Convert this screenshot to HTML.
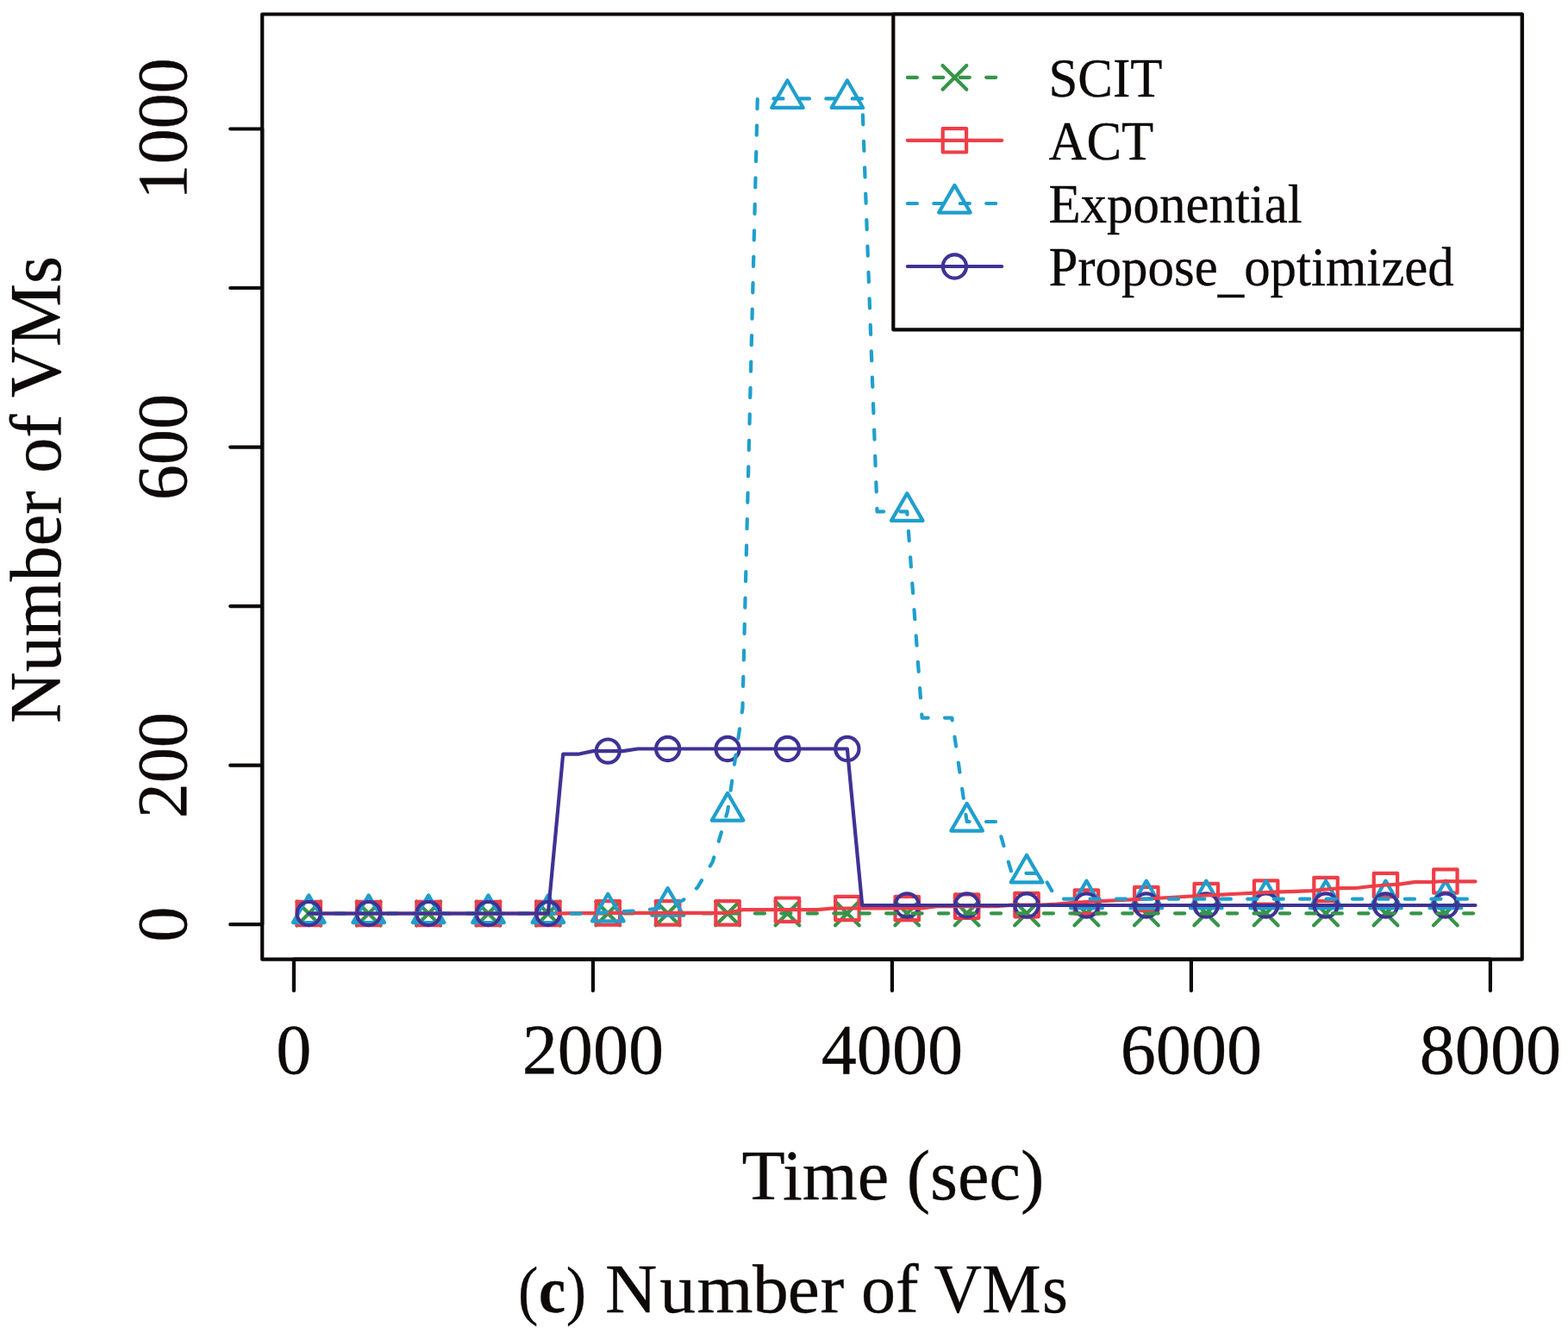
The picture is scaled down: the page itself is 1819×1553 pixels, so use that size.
<!DOCTYPE html>
<html lang="en"><head><meta charset="utf-8"><title>(c) Number of VMs</title>
<style>
html,body{margin:0;padding:0;background:#fff;}
body{width:1819px;height:1553px;overflow:hidden;}
svg{display:block;}
text{font-family:"Liberation Serif","Times New Roman",Times,serif;fill:#0d0909;stroke:#0d0909;stroke-width:0.3px;stroke-linejoin:round;}
.ln{fill:none;stroke-width:4.2;stroke-linecap:round;stroke-linejoin:round;}
.ax{fill:none;stroke:#0d0909;stroke-width:4.2;stroke-linecap:round;stroke-linejoin:round;}
</style></head><body>
<svg width="1819" height="1553" viewBox="0 0 1819 1553">
<rect x="0" y="0" width="1819" height="1553" fill="#fff"/>
<!-- markers -->
<g class="ln" stroke="#37944a"><path d="M344.35 1045.6L372.15 1073.4M344.35 1073.4L372.15 1045.6"/><path d="M413.75 1045.6L441.55 1073.4M413.75 1073.4L441.55 1045.6"/><path d="M483.15 1045.6L510.95 1073.4M483.15 1073.4L510.95 1045.6"/><path d="M552.55 1045.6L580.35 1073.4M552.55 1073.4L580.35 1045.6"/><path d="M621.95 1045.6L649.75 1073.4M621.95 1073.4L649.75 1045.6"/><path d="M691.35 1045.4L719.15 1073.2M691.35 1073.2L719.15 1045.4"/><path d="M760.75 1045.4L788.55 1073.2M760.75 1073.2L788.55 1045.4"/><path d="M830.15 1045.4L857.95 1073.2M830.15 1073.2L857.95 1045.4"/><path d="M899.55 1045.4L927.35 1073.2M899.55 1073.2L927.35 1045.4"/><path d="M968.95 1045.4L996.75 1073.2M968.95 1073.2L996.75 1045.4"/><path d="M1038.35 1045.4L1066.15 1073.2M1038.35 1073.2L1066.15 1045.4"/><path d="M1107.75 1045.4L1135.55 1073.2M1107.75 1073.2L1135.55 1045.4"/><path d="M1177.15 1045.4L1204.95 1073.2M1177.15 1073.2L1204.95 1045.4"/><path d="M1246.55 1045.4L1274.35 1073.2M1246.55 1073.2L1274.35 1045.4"/><path d="M1315.95 1045.4L1343.75 1073.2M1315.95 1073.2L1343.75 1045.4"/><path d="M1385.35 1045.4L1413.15 1073.2M1385.35 1073.2L1413.15 1045.4"/><path d="M1454.75 1045.4L1482.55 1073.2M1454.75 1073.2L1482.55 1045.4"/><path d="M1524.15 1045.4L1551.95 1073.2M1524.15 1073.2L1551.95 1045.4"/><path d="M1593.55 1045.4L1621.35 1073.2M1593.55 1073.2L1621.35 1045.4"/><path d="M1662.95 1045.4L1690.75 1073.2M1662.95 1073.2L1690.75 1045.4"/></g>
<g class="ln" stroke="#ee3e48"><rect x="344.55" y="1045.8" width="27.4" height="27.4"/><rect x="413.95" y="1045.8" width="27.4" height="27.4"/><rect x="483.35" y="1045.8" width="27.4" height="27.4"/><rect x="552.75" y="1045.8" width="27.4" height="27.4"/><rect x="622.15" y="1045.8" width="27.4" height="27.4"/><rect x="691.55" y="1045.2" width="27.4" height="27.4"/><rect x="760.95" y="1045.2" width="27.4" height="27.4"/><rect x="830.35" y="1045.2" width="27.4" height="27.4"/><rect x="899.75" y="1041.5" width="27.4" height="27.4"/><rect x="969.15" y="1039.8" width="27.4" height="27.4"/><rect x="1038.55" y="1039.8" width="27.4" height="27.4"/><rect x="1107.95" y="1037.4" width="27.4" height="27.4"/><rect x="1177.35" y="1035.9" width="27.4" height="27.4"/><rect x="1246.75" y="1032.3" width="27.4" height="27.4"/><rect x="1316.15" y="1028.8" width="27.4" height="27.4"/><rect x="1385.55" y="1024.8" width="27.4" height="27.4"/><rect x="1454.95" y="1021.3" width="27.4" height="27.4"/><rect x="1524.35" y="1017.8" width="27.4" height="27.4"/><rect x="1593.75" y="1012.8" width="27.4" height="27.4"/><rect x="1663.15" y="1008.3" width="27.4" height="27.4"/></g>
<g class="ln" stroke="#1f9fcd"><path d="M358.25 1038.4L376.55 1070.05L339.95 1070.05Z"/><path d="M427.65 1038.4L445.95 1070.05L409.35 1070.05Z"/><path d="M497.05 1038.4L515.35 1070.05L478.75 1070.05Z"/><path d="M566.45 1038.4L584.75 1070.05L548.15 1070.05Z"/><path d="M635.85 1038.4L654.15 1070.05L617.55 1070.05Z"/><path d="M705.25 1036.7L723.55 1068.35L686.95 1068.35Z"/><path d="M774.65 1030.1L792.95 1061.75L756.35 1061.75Z"/><path d="M844.05 919.9L862.35 951.55L825.75 951.55Z"/><path d="M913.45 93.3L931.75 124.95L895.15 124.95Z"/><path d="M982.85 93.3L1001.15 124.95L964.55 124.95Z"/><path d="M1052.25 572.2L1070.55 603.85L1033.95 603.85Z"/><path d="M1121.65 931.9L1139.95 963.55L1103.35 963.55Z"/><path d="M1191.05 991.7L1209.35 1023.35L1172.75 1023.35Z"/><path d="M1260.45 1021.6L1278.75 1053.25L1242.15 1053.25Z"/><path d="M1329.85 1021.6L1348.15 1053.25L1311.55 1053.25Z"/><path d="M1399.25 1021.6L1417.55 1053.25L1380.95 1053.25Z"/><path d="M1468.65 1021.6L1486.95 1053.25L1450.35 1053.25Z"/><path d="M1538.05 1021.6L1556.35 1053.25L1519.75 1053.25Z"/><path d="M1607.45 1021.6L1625.75 1053.25L1589.15 1053.25Z"/><path d="M1676.85 1021.6L1695.15 1053.25L1658.55 1053.25Z"/></g>
<g class="ln" stroke="#3f3296"><circle cx="358.25" cy="1059.5" r="13.6"/><circle cx="427.65" cy="1059.5" r="13.6"/><circle cx="497.05" cy="1059.5" r="13.6"/><circle cx="566.45" cy="1059.5" r="13.6"/><circle cx="635.85" cy="1059.5" r="13.6"/><circle cx="705.25" cy="871.1" r="13.6"/><circle cx="774.65" cy="868.5" r="13.6"/><circle cx="844.05" cy="868.5" r="13.6"/><circle cx="913.45" cy="868.5" r="13.6"/><circle cx="982.85" cy="868.5" r="13.6"/><circle cx="1052.25" cy="1050" r="13.6"/><circle cx="1121.65" cy="1050" r="13.6"/><circle cx="1191.05" cy="1050" r="13.6"/><circle cx="1260.45" cy="1050" r="13.6"/><circle cx="1329.85" cy="1050" r="13.6"/><circle cx="1399.25" cy="1050" r="13.6"/><circle cx="1468.65" cy="1050" r="13.6"/><circle cx="1538.05" cy="1050" r="13.6"/><circle cx="1607.45" cy="1050" r="13.6"/><circle cx="1676.85" cy="1050" r="13.6"/></g>
<!-- lines -->
<path class="ln" stroke="#37944a" stroke-dasharray="11.1 19.35" d="M358.25 1059.5 L375.6 1059.5 L392.95 1059.5 L410.3 1059.5 L427.65 1059.5 L445 1059.5 L462.35 1059.5 L479.7 1059.5 L497.05 1059.5 L514.4 1059.5 L531.75 1059.5 L549.1 1059.5 L566.45 1059.5 L583.8 1059.5 L601.15 1059.5 L618.5 1059.5 L635.85 1059.5 L653.2 1059.45 L670.55 1059.4 L687.9 1059.35 L705.25 1059.3 L722.6 1059.3 L739.95 1059.3 L757.3 1059.3 L774.65 1059.3 L792 1059.3 L809.35 1059.3 L826.7 1059.3 L844.05 1059.3 L861.4 1059.3 L878.75 1059.3 L896.1 1059.3 L913.45 1059.3 L930.8 1059.3 L948.15 1059.3 L965.5 1059.3 L982.85 1059.3 L1000.2 1059.3 L1017.55 1059.3 L1034.9 1059.3 L1052.25 1059.3 L1069.6 1059.3 L1086.95 1059.3 L1104.3 1059.3 L1121.65 1059.3 L1139 1059.3 L1156.35 1059.3 L1173.7 1059.3 L1191.05 1059.3 L1208.4 1059.3 L1225.75 1059.3 L1243.1 1059.3 L1260.45 1059.3 L1277.8 1059.3 L1295.15 1059.3 L1312.5 1059.3 L1329.85 1059.3 L1347.2 1059.3 L1364.55 1059.3 L1381.9 1059.3 L1399.25 1059.3 L1416.6 1059.3 L1433.95 1059.3 L1451.3 1059.3 L1468.65 1059.3 L1486 1059.3 L1503.35 1059.3 L1520.7 1059.3 L1538.05 1059.3 L1555.4 1059.3 L1572.75 1059.3 L1590.1 1059.3 L1607.45 1059.3 L1624.8 1059.3 L1642.15 1059.3 L1659.5 1059.3 L1676.85 1059.3 L1694.2 1059.3 L1711.55 1059.3"/>
<path class="ln" stroke="#ee3e48" d="M358.25 1059.5 L375.6 1059.5 L392.95 1059.5 L410.3 1059.5 L427.65 1059.5 L445 1059.5 L462.35 1059.5 L479.7 1059.5 L497.05 1059.5 L514.4 1059.5 L531.75 1059.5 L549.1 1059.5 L566.45 1059.5 L583.8 1059.5 L601.15 1059.5 L618.5 1059.5 L635.85 1059.5 L653.2 1059.35 L670.55 1059.2 L687.9 1059.05 L705.25 1058.9 L722.6 1058.9 L739.95 1058.9 L757.3 1058.9 L774.65 1058.9 L792 1058.9 L809.35 1058.9 L826.7 1058.9 L844.05 1058.9 L861.4 1055.2 L878.75 1055.2 L896.1 1055.2 L913.45 1055.2 L930.8 1055.2 L948.15 1055.2 L965.5 1053.5 L982.85 1053.5 L1000.2 1053.5 L1017.55 1053.5 L1034.9 1053.5 L1052.25 1053.5 L1069.6 1053.5 L1086.95 1051.1 L1104.3 1051.1 L1121.65 1051.1 L1139 1051.1 L1156.35 1051.1 L1173.7 1049.6 L1191.05 1049.6 L1208.4 1049.6 L1225.75 1048.5 L1243.1 1047 L1260.45 1046 L1277.8 1045.12 L1295.15 1044.25 L1312.5 1043.38 L1329.85 1042.5 L1347.2 1041.5 L1364.55 1040.5 L1381.9 1039.5 L1399.25 1038.5 L1416.6 1037.62 L1433.95 1036.75 L1451.3 1035.88 L1468.65 1035 L1486 1034.4 L1503.35 1033.8 L1520.7 1033.2 L1538.05 1031.5 L1555.4 1030.2 L1572.75 1030 L1590.1 1028 L1607.45 1026.5 L1624.8 1025.3 L1642.15 1022.8 L1659.5 1023 L1676.85 1022 L1694.2 1022.3 L1711.55 1022.3"/>
<path class="ln" stroke="#1f9fcd" stroke-dasharray="11.1 19.35" d="M358.25 1059.5 L375.6 1059.5 L392.95 1059.5 L410.3 1059.5 L427.65 1059.5 L445 1059.5 L462.35 1059.5 L479.7 1059.5 L497.05 1059.5 L514.4 1059.5 L531.75 1059.5 L549.1 1059.5 L566.45 1059.5 L583.8 1059.5 L601.15 1059.5 L618.5 1059.5 L635.85 1059.5 L653.2 1059.5 L670.55 1059.5 L687.9 1059.5 L705.25 1057.8 L722.6 1057.2 L739.95 1056.2 L757.3 1054.4 L774.65 1051.2 L792 1044.4 L809.35 1029 L826.7 999.5 L844.05 941 L861.4 822 L878.75 114.4 L896.1 114.4 L913.45 114.4 L930.8 114.4 L948.15 114.4 L965.5 114.4 L982.85 114.4 L1000.2 114.4 L1017.55 593.3 L1034.9 593.3 L1052.25 593.3 L1069.6 832.6 L1086.95 832.6 L1104.3 832.6 L1121.65 953 L1139 953 L1156.35 953 L1173.7 1012.8 L1191.05 1012.8 L1208.4 1012.8 L1225.75 1042.7 L1243.1 1042.7 L1260.45 1042.7 L1277.8 1042.7 L1295.15 1042.7 L1312.5 1042.7 L1329.85 1042.7 L1347.2 1042.7 L1364.55 1042.7 L1381.9 1042.7 L1399.25 1042.7 L1416.6 1042.7 L1433.95 1042.7 L1451.3 1042.7 L1468.65 1042.7 L1486 1042.7 L1503.35 1042.7 L1520.7 1042.7 L1538.05 1042.7 L1555.4 1042.7 L1572.75 1042.7 L1590.1 1042.7 L1607.45 1042.7 L1624.8 1042.7 L1642.15 1042.7 L1659.5 1042.7 L1676.85 1042.7 L1694.2 1042.7 L1711.55 1042.7"/>
<path class="ln" stroke="#3f3296" d="M358.25 1059.5 L375.6 1059.5 L392.95 1059.5 L410.3 1059.5 L427.65 1059.5 L445 1059.5 L462.35 1059.5 L479.7 1059.5 L497.05 1059.5 L514.4 1059.5 L531.75 1059.5 L549.1 1059.5 L566.45 1059.5 L583.8 1059.5 L601.15 1059.5 L618.5 1059.5 L635.85 1059.5 L653.2 874.7 L670.55 874.7 L687.9 871.1 L705.25 871.1 L722.6 871.1 L739.95 868.5 L757.3 868.5 L774.65 868.5 L792 868.5 L809.35 868.5 L826.7 868.5 L844.05 868.5 L861.4 868.5 L878.75 868.5 L896.1 868.5 L913.45 868.5 L930.8 868.5 L948.15 868.5 L965.5 868.5 L982.85 868.5 L1000.2 1050 L1017.55 1050 L1034.9 1050 L1052.25 1050 L1069.6 1050 L1086.95 1050 L1104.3 1050 L1121.65 1050 L1139 1050 L1156.35 1050 L1173.7 1050 L1191.05 1050 L1208.4 1050 L1225.75 1050 L1243.1 1050 L1260.45 1050 L1277.8 1050 L1295.15 1050 L1312.5 1050 L1329.85 1050 L1347.2 1050 L1364.55 1050 L1381.9 1050 L1399.25 1050 L1416.6 1050 L1433.95 1050 L1451.3 1050 L1468.65 1050 L1486 1050 L1503.35 1050 L1520.7 1050 L1538.05 1050 L1555.4 1050 L1572.75 1050 L1590.1 1050 L1607.45 1050 L1624.8 1050 L1642.15 1050 L1659.5 1050 L1676.85 1050 L1694.2 1050 L1711.55 1050"/>
<!-- axes -->
<path class="ax" d="M340.9 1112.7H1728.9M340.9 1112.7V1148.9M687.9 1112.7V1148.9M1034.9 1112.7V1148.9M1381.9 1112.7V1148.9M1728.9 1112.7V1148.9M304.2 1072.2V149.5M304.2 1072.2H267.2M304.2 887.7H267.2M304.2 703.1H267.2M304.2 518.6H267.2M304.2 334H267.2M304.2 149.5H267.2"/>
<rect class="ax" x="304.2" y="16.5" width="1461.5" height="1096.2"/>
<text transform="translate(340.9 1245) scale(0.988 1)" font-size="83.2" text-anchor="middle">0</text>
<text transform="translate(687.9 1245) scale(0.988 1)" font-size="83.2" text-anchor="middle">2000</text>
<text transform="translate(1034.9 1245) scale(0.988 1)" font-size="83.2" text-anchor="middle">4000</text>
<text transform="translate(1381.9 1245) scale(0.988 1)" font-size="83.2" text-anchor="middle">6000</text>
<text transform="translate(1728.9 1245) scale(0.988 1)" font-size="83.2" text-anchor="middle">8000</text>
<text transform="translate(215.9 1072.2) rotate(-90) scale(0.985 1)" font-size="83.5" text-anchor="middle">0</text>
<text transform="translate(215.9 887.7) rotate(-90) scale(0.985 1)" font-size="83.5" text-anchor="middle">200</text>
<text transform="translate(215.9 518.6) rotate(-90) scale(0.985 1)" font-size="83.5" text-anchor="middle">600</text>
<text transform="translate(215.9 149.5) rotate(-90) scale(0.985 1)" font-size="83.5" text-anchor="middle">1000</text>
<text transform="translate(1036 1390.6) scale(0.993 1)" font-size="82.8" text-anchor="middle">Time (sec)</text>
<text transform="translate(70.4 567.8) rotate(-90) scale(0.975 1)" font-size="84.3" text-anchor="middle">Number of VMs</text>
<!-- legend -->
<rect class="ax" x="1036.3" y="16.5" width="729.4" height="365.8" style="fill:#fff"/>
<g class="ln" stroke="#37944a"><path stroke-dasharray="11.1 19.35" d="M1052.8 89.85H1162.2"/><path d="M1093.5 75.95L1121.3 103.75M1093.5 103.75L1121.3 75.95"/></g>
<text transform="translate(1216.4 112) scale(0.958 1)" font-size="63.6" text-anchor="start">SCIT</text>
<g class="ln" stroke="#ee3e48"><path d="M1052.8 162.8H1162.2"/><rect x="1093.7" y="149.1" width="27.4" height="27.4"/></g>
<text transform="translate(1216.4 185) scale(0.958 1)" font-size="63.6" text-anchor="start">ACT</text>
<g class="ln" stroke="#1f9fcd"><path stroke-dasharray="11.1 19.35" d="M1052.8 236H1162.2"/><path d="M1107.4 214.9L1125.7 246.55L1089.1 246.55Z"/></g>
<text transform="translate(1216.4 258) scale(0.958 1)" font-size="63.6" text-anchor="start">Exponential</text>
<g class="ln" stroke="#3f3296"><path d="M1052.8 309H1162.2"/><circle cx="1107.4" cy="309" r="13.6"/></g>
<text transform="translate(1216.4 331) scale(0.958 1)" font-size="63.6" text-anchor="start">Propose<tspan dy="5.5">_</tspan><tspan dy="-5.5">optimized</tspan></text>
<!-- caption -->
<text transform="translate(0 1522.4) scale(0.91 1)" font-size="77" x="660.39 686.84 721.6">(<tspan font-weight="bold">c</tspan>)</text>
<text transform="translate(0 1522.4) scale(1.045 1)" font-size="80" x="671.78 732.25 773.77 835.32 874.32 910.65">Number</text>
<text transform="translate(0 1522.4) scale(1 1)" font-size="80" x="999 1039.03">of</text>
<text transform="translate(0 1522.4) scale(0.96 1)" font-size="80" x="1128.54 1186.72 1259.27">VMs</text>
</svg></body></html>
